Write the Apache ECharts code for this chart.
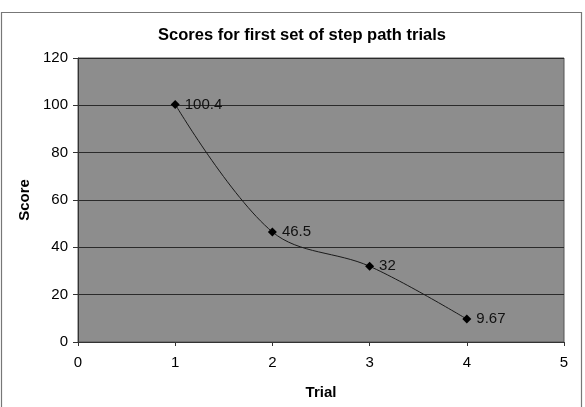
<html>
    <head>
        <meta charset="utf-8">
        <script src="https://cdn.jsdelivr.net/npm/echarts@6/dist/echarts.min.js"></script>
        <style>
            html, body { margin: 0; padding: 0; background: #fff; }
            #main { width: 585px; height: 407px; }
        </style>
    </head>
    <body>
        <div id="main"></div>
        <script>
            var trials = [1, 2, 3, 4];
            var scores = [100.4, 46.5, 32, 9.67];
            var scoreLabels = ['100.4', '46.5', '32', '9.67'];

            var points = trials.map(function (t, i) {
                return { value: [t, scores[i]], label: { formatter: scoreLabels[i] } };
            });

            var chart = echarts.init(document.getElementById('main'));
            var font = 'Liberation Sans, Arial, sans-serif';

            chart.setOption({
                animation: false,
                graphic: [{
                    type: 'rect',
                    shape: { x: 1.5, y: 12.5, width: 580, height: 400 },
                    style: { fill: 'none', stroke: '#777', lineWidth: 1.2 },
                    z: -1
                }],
                title: {
                    text: 'Scores for first set of step path trials',
                    left: 297,
                    textAlign: 'center',
                    top: 22,
                    textStyle: { fontFamily: font, fontSize: 16.5, fontWeight: 'bold', color: '#000' }
                },
                grid: {
                    left: 78, right: 21, top: 58, bottom: 65,
                    show: true,
                    backgroundColor: '#8d8d8d',
                    borderColor: '#555',
                    borderWidth: 1
                },
                xAxis: {
                    type: 'value',
                    min: 0, max: 5, interval: 1,
                    name: 'Trial',
                    nameLocation: 'middle',
                    nameGap: 43,
                    nameTextStyle: { fontFamily: font, fontSize: 15, fontWeight: 'bold', color: '#000' },
                    axisLine: { onZero: false, lineStyle: { color: '#333' } },
                    axisTick: { show: true, inside: false, length: 4, lineStyle: { color: '#333' } },
                    axisLabel: { fontFamily: font, fontSize: 15, color: '#000', margin: 13 },
                    splitLine: { show: false }
                },
                yAxis: {
                    type: 'value',
                    min: 0, max: 120, interval: 20,
                    name: 'Score',
                    nameLocation: 'middle',
                    nameGap: 45,
                    nameTextStyle: { fontFamily: font, fontSize: 15, fontWeight: 'bold', color: '#000' },
                    axisLine: { show: true, lineStyle: { color: '#333' } },
                    axisTick: { show: true, length: 5, lineStyle: { color: '#333' } },
                    axisLabel: { fontFamily: font, fontSize: 15, color: '#000', margin: 10 },
                    splitLine: { show: true, lineStyle: { color: '#2a2a2a', width: 1 } }
                },
                series: [{
                    type: 'line',
                    data: points,
                    smooth: 0.35,
                    symbol: 'diamond',
                    symbolSize: 9,
                    itemStyle: { color: '#000' },
                    lineStyle: { color: '#1a1a1a', width: 1 },
                    label: {
                        show: true,
                        position: 'right',
                        distance: 5,
                        fontFamily: font,
                        fontSize: 15,
                        color: '#111'
                    }
                }]
            });
        </script>
    </body>
</html>
